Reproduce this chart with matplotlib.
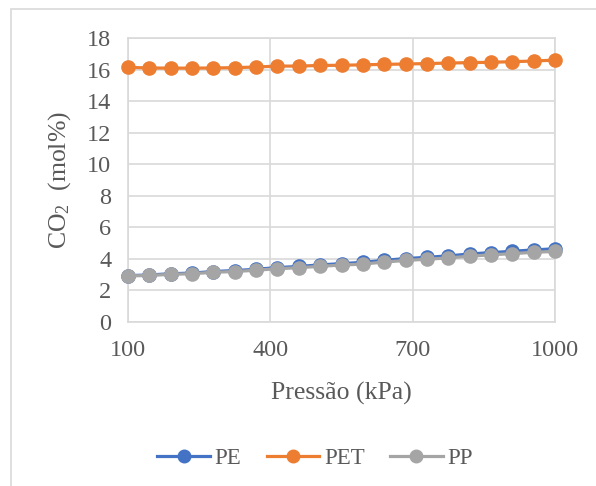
import matplotlib
matplotlib.use("Agg")
import matplotlib.pyplot as plt
from matplotlib.patches import Rectangle

plt.rcParams['font.family'] = ['Liberation Serif', 'DejaVu Serif']
plt.rcParams['mathtext.fontset'] = 'custom'
plt.rcParams['mathtext.rm'] = 'Liberation Serif'
plt.rcParams['mathtext.it'] = 'Liberation Serif:italic'

# Pressure (kPa)
pressure = [100, 145, 190, 235, 280, 325, 370, 415, 460, 505, 550,
            595, 640, 685, 730, 775, 820, 865, 910, 955, 1000]

# CO2 content (mol%) per polymer
pe = [2.94, 2.98, 3.06, 3.10, 3.20, 3.26, 3.34, 3.45, 3.52, 3.62, 3.70,
      3.78, 3.91, 4.02, 4.10, 4.19, 4.31, 4.40, 4.48, 4.57, 4.64]
pet = [16.14, 16.10, 16.09, 16.09, 16.10, 16.12, 16.16, 16.22, 16.22, 16.26, 16.27,
       16.30, 16.33, 16.35, 16.38, 16.41, 16.44, 16.46, 16.50, 16.54, 16.60]
pp = [2.92, 2.95, 3.02, 3.06, 3.15, 3.20, 3.28, 3.38, 3.44, 3.53, 3.61,
      3.67, 3.80, 3.90, 3.98, 4.06, 4.17, 4.26, 4.33, 4.42, 4.47]

series = [("PE", pe, "#4472C4"), ("PET", pet, "#ED7D31"), ("PP", pp, "#A5A5A5")]

x_ticks = [100, 400, 700, 1000]
y_ticks = list(range(0, 19, 2))

W, H = 596, 486
fig = plt.figure(figsize=(W / 100, H / 100), dpi=100)

# chart area frame
fig.patches.append(Rectangle((11 / W, -0.1), 1.2, 1 - 9 / H + 0.1,
                             transform=fig.transFigure, fill=False,
                             edgecolor="#D9D9D9", linewidth=1.2, zorder=0))

ax = fig.add_axes([128 / W, 1 - 322 / H, (555 - 128) / W, (322 - 38) / H])

for name, vals, col in series:
    ax.plot(pressure, vals, color=col, linewidth=2.3, marker="o",
            markersize=9.5, label=name, zorder=3, clip_on=False)

ax.set_xlim(100, 1000)
ax.set_ylim(0, 18)
ax.set_xticks(x_ticks)
ax.set_yticks(y_ticks)
ax.grid(True, color="#D9D9D9", linewidth=1.2)
ax.set_axisbelow(True)
for s in ax.spines.values():
    s.set_color("#D9D9D9")
    s.set_linewidth(1.2)
ax.tick_params(axis="both", length=0, labelsize=17.5, labelcolor="#595959")
ax.tick_params(axis="x", pad=13)
ax.tick_params(axis="y", pad=12)

ax.set_xlabel("Pressão (kPa)", fontsize=18.5, color="#595959", labelpad=15)
ax.set_ylabel("CO$_2$  (mol%)", fontsize=18.5, color="#595959", labelpad=10)

handles, labels = ax.get_legend_handles_labels()
fig.legend(handles, labels, loc="center", bbox_to_anchor=(315 / W, 1 - 458 / H),
           ncol=3, frameon=False, fontsize=16.5, labelcolor="#595959",
           handlelength=2.3, columnspacing=1.1, handletextpad=0.2,
           markerscale=0.95)

fig.savefig("out.png", dpi=100)
